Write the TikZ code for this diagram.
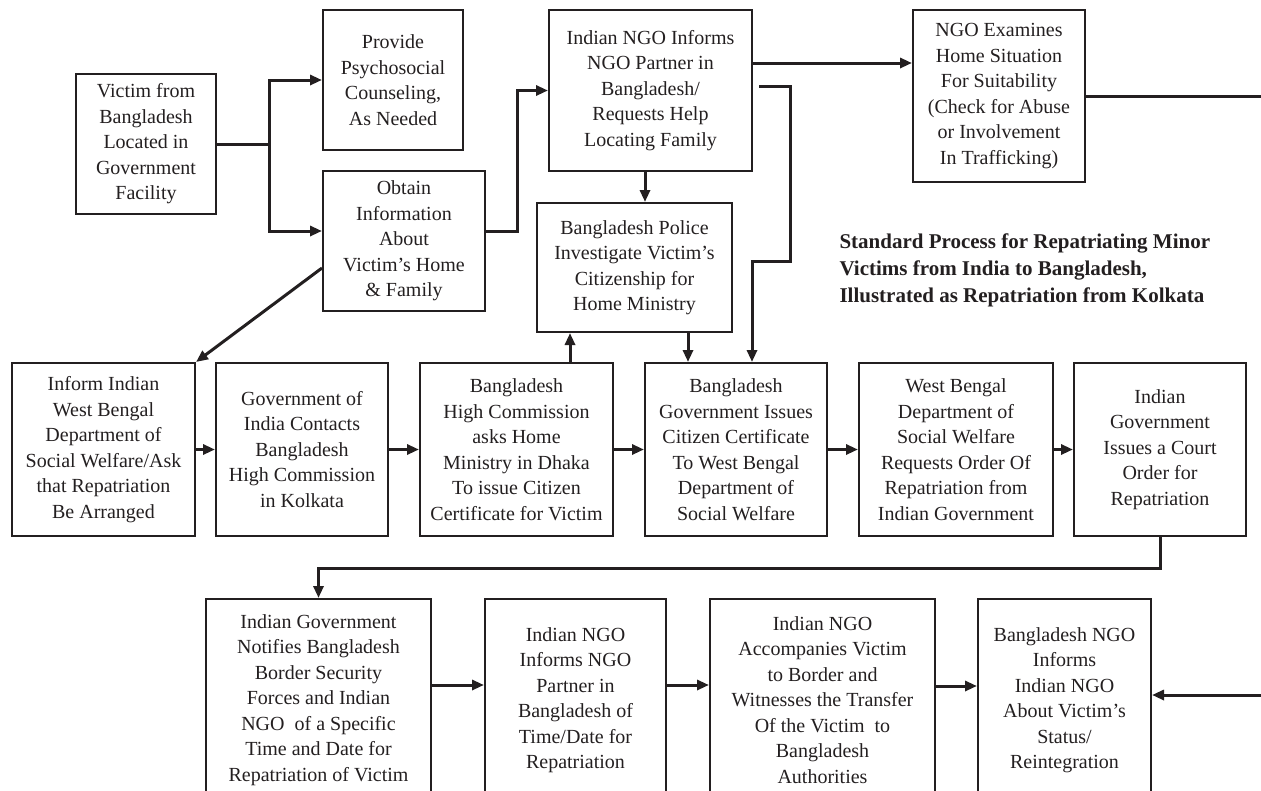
\documentclass[tikz,border=0pt]{standalone}
\usepackage{fontspec}
\setmainfont{Liberation Serif}
\usetikzlibrary{arrows.meta,calc}

\definecolor{ink}{RGB}{35,31,32}

\begin{document}
\begin{tikzpicture}[x=1pt,y=-1pt,>={Triangle[length=12pt,width=10pt]},
box/.style={draw=ink,line width=2pt,align=center,inner sep=2pt,text=ink,
  font=\fontsize{20}{25.5}\selectfont},
link/.style={->,draw=ink,line width=3pt},
line/.style={draw=ink,line width=3pt}]

\useasboundingbox (0,0) rectangle (1261,790);
\clip (0,0) rectangle (1261,790);

% top part
\node[box,minimum width=140pt,minimum height=140pt] (victim) at (146,144) {Victim from\\Bangladesh\\Located in\\Government\\Facility};
\node[box,minimum width=140pt,minimum height=140pt] (counsel) at (393,80) {Provide\\Psychosocial\\Counseling,\\As Needed};
\node[box,minimum width=162pt,minimum height=140pt] (obtain) at (404,241) {Obtain\\Information\\About\\Victim's Home\\\& Family};
\node[box,minimum width=203pt,minimum height=161pt] (ngoinform) at (650.5,90.5) {Indian NGO Informs\\NGO Partner in\\Bangladesh/\\Requests Help\\Locating Family};
\node[box,minimum width=172pt,minimum height=172pt] (examine) at (999,96) {NGO Examines\\Home Situation\\For Suitability\\(Check for Abuse\\or Involvement\\In Trafficking)};
\node[box,minimum width=195pt,minimum height=129pt] (police) at (634.5,267.5) {Bangladesh Police\\Investigate Victim's\\Citizenship for\\Home Ministry};

\node[anchor=west,align=left,text=ink,font=\bfseries\fontsize{21}{27}\selectfont] (title) at (836,270) {Standard Process for Repatriating Minor\\Victims from India to Bangladesh,\\Illustrated as Repatriation from Kolkata};

% middle row
\node[box,minimum width=183pt,minimum height=173pt] (inform) at (103.5,449.5) {Inform Indian\\West Bengal\\Department of\\Social Welfare/Ask\\that Repatriation\\Be Arranged};
\node[box,minimum width=172pt,minimum height=173pt] (contact) at (302,449.5) {Government of\\India Contacts\\Bangladesh\\High Commission\\in Kolkata};
\node[box,minimum width=193pt,minimum height=173pt] (commission) at (516.5,449.5) {Bangladesh\\High Commission\\asks Home\\Ministry in Dhaka\\To issue Citizen\\Certificate for Victim};
\node[box,minimum width=182pt,minimum height=173pt] (certificate) at (736,449.5) {Bangladesh\\Government Issues\\Citizen Certificate\\To West Bengal\\Department of\\Social Welfare};
\node[box,minimum width=194pt,minimum height=173pt] (request) at (956,449.5) {West Bengal\\Department of\\Social Welfare\\Requests Order Of\\Repatriation from\\Indian Government};
\node[box,minimum width=172pt,minimum height=173pt] (court) at (1160,449.5) {Indian\\Government\\Issues a Court\\Order for\\Repatriation};

% bottom row
\node[box,minimum width=225pt,minimum height=202pt] (notify) at (318.5,700) {Indian Government\\Notifies Bangladesh\\Border Security\\Forces and Indian\\NGO~ of a Specific\\Time and Date for\\Repatriation of Victim};
\node[box,minimum width=181pt,minimum height=202pt] (partner) at (575.5,700) {Indian NGO\\Informs NGO\\Partner in\\Bangladesh of\\Time/Date for\\Repatriation};
\node[box,minimum width=225pt,minimum height=202pt] (escort) at (822.5,700) {Indian NGO\\Accompanies Victim\\to Border and\\Witnesses the Transfer\\Of the Victim~ to\\Bangladesh\\Authorities};
\node[box,minimum width=173pt,minimum height=202pt] (status) at (1064.5,700) {Bangladesh NGO\\Informs\\Indian NGO\\About Victim's\\Status/\\Reintegration};

\coordinate (split) at (269,144);
\coordinate (out) at (1261,97);
\coordinate (in) at (1261,695);

\draw[link] (victim.east) -- (split) |- (counsel.west);
\draw[link] (split) |- ([yshift=10pt]obtain.west);
\draw[link] ([yshift=10pt]obtain.east) -- ++(31,0) |- (ngoinform.west);
\draw[link] ([yshift=-27pt]obtain.west) -- (inform.north east);
\draw[link] ($(ngoinform.east)+(0,-27.5)$) coordinate (p) -- (p -| examine.west);
\draw[line] (examine.east) -- (examine.east -| out);
\draw[link] ($(ngoinform.east)+(6,-4.5)$) -- ++(31,0) |- ($(certificate.north)+(16,-101)$) -- ($(certificate.north)+(16,0)$);
\draw[link] ($(ngoinform.south)+(-5.5,0)$) coordinate (p) -- (p |- police.north);
\draw[link] ($(police.south)+(53.5,0)$) coordinate (p) -- (p |- certificate.north);
\draw[link] ($(commission.north)+(53.5,0)$) coordinate (p) -- (p |- police.south);

\path (inform) edge[link] (contact)
(contact) edge[link] (commission)
(commission) edge[link] (certificate)
(certificate) edge[link] (request)
(request) edge[link] (court);

\draw[link] (court.south) -- ++(0,31) -| (notify.north);
\draw[link] ($(notify.east)+(0,-15)$) coordinate (p) -- (p -| partner.west);
\draw[link] ($(partner.east)+(0,-15)$) coordinate (p) -- (p -| escort.west);
\draw[link] ($(escort.east)+(0,-14)$) coordinate (p) -- (p -| status.west);
\draw[link] (in) -- (in -| status.east);
\end{tikzpicture}
\end{document}
